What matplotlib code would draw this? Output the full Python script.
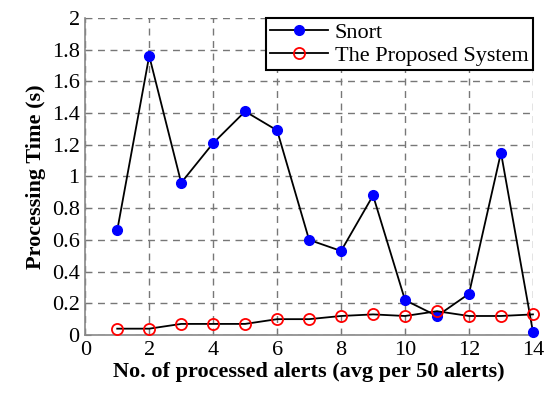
import matplotlib
matplotlib.use("Agg")
import matplotlib.pyplot as plt

x = list(range(1, 15))
snort = [0.66, 1.76, 0.96, 1.21, 1.41, 1.29, 0.60, 0.53, 0.88, 0.22, 0.12, 0.26, 1.15, 0.02]
proposed = [0.04, 0.04, 0.07, 0.07, 0.07, 0.10, 0.10, 0.12, 0.13, 0.12, 0.15, 0.12, 0.12, 0.13]
xticks = [0, 2, 4, 6, 8, 10, 12, 14]
yticks = [0, 0.2, 0.4, 0.6, 0.8, 1, 1.2, 1.4, 1.6, 1.8, 2]
ylabels = ["0", "0.2", "0.4", "0.6", "0.8", "1", "1.2", "1.4", "1.6", "1.8", "2"]

plt.rcParams['font.family'] = ['Liberation Serif', 'DejaVu Serif']
fig = plt.figure(figsize=(5.5, 3.96), dpi=100)
ax = fig.add_axes([0.155, 0.154, 0.814, 0.801])

ax.plot(x, snort, '-', color='black', lw=1.3, marker='o', markersize=7,
        markerfacecolor='blue', markeredgecolor='blue', label='Snort', zorder=3, clip_on=False)
ax.plot(x, proposed, '-', color='black', lw=1.3, marker='o', markersize=8,
        markerfacecolor='none', markeredgecolor='red', markeredgewidth=1.3,
        label='The Proposed System', zorder=3, clip_on=False)

ax.set_xlim(0, 14)
ax.set_ylim(0, 2)
ax.set_xticks(xticks)
ax.set_yticks(yticks)
ax.set_yticklabels(ylabels)
ax.tick_params(labelsize=16, direction='in', length=4, color='#777777', pad=4)
ax.grid(True, linestyle=(0, (5, 4)), color='#777777', lw=1.0)
for s in ['top', 'right']:
    ax.spines[s].set_visible(False)
for s in ['left', 'bottom']:
    ax.spines[s].set_color('#888888')
    ax.spines[s].set_linewidth(1.2)

ax.set_xlabel('No. of processed alerts (avg per 50 alerts)', fontsize=16, fontweight='bold', labelpad=2)
ax.set_ylabel('Processing Time (s)', fontsize=16, fontweight='bold', labelpad=4)

leg = ax.legend(loc='upper right', fontsize=16, fancybox=False, framealpha=1,
                edgecolor='black', borderaxespad=0, handlelength=2.6,
                handletextpad=0.3, borderpad=0.2, labelspacing=0.1)
leg.get_frame().set_linewidth(1.5)
leg.set_zorder(5)

fig.savefig('out.png', dpi=100)
